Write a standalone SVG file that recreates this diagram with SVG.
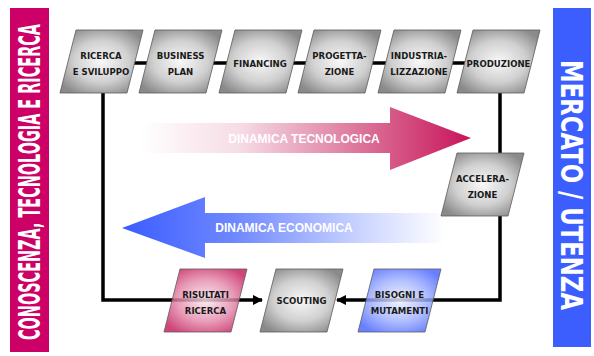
<svg xmlns="http://www.w3.org/2000/svg" width="594" height="356" viewBox="0 0 594 356">
<defs>
<radialGradient id="gGray" cx="50%" cy="50%" r="60%">
<stop offset="0" stop-color="#f8f8f8"/><stop offset="0.55" stop-color="#d0d0d0"/><stop offset="1" stop-color="#8a8a8a"/>
</radialGradient>
<radialGradient id="gPink" cx="50%" cy="50%" r="60%">
<stop offset="0" stop-color="#fbe6ee"/><stop offset="0.55" stop-color="#e48aab"/><stop offset="1" stop-color="#c41d5c"/>
</radialGradient>
<radialGradient id="gBlue" cx="50%" cy="50%" r="60%">
<stop offset="0" stop-color="#eef1ff"/><stop offset="0.55" stop-color="#9fb0ff"/><stop offset="1" stop-color="#4763ff"/>
</radialGradient>
<linearGradient id="gTech" gradientUnits="userSpaceOnUse" x1="140" y1="0" x2="471" y2="0">
<stop offset="0" stop-color="#ffffff"/><stop offset="0.3" stop-color="#f6dce6"/><stop offset="0.7" stop-color="#da6a93"/><stop offset="1" stop-color="#c8145a"/>
</linearGradient>
<linearGradient id="gEco" gradientUnits="userSpaceOnUse" x1="122" y1="0" x2="445" y2="0">
<stop offset="0" stop-color="#3a5cff"/><stop offset="0.35" stop-color="#6f88ff"/><stop offset="0.75" stop-color="#cdd6ff"/><stop offset="1" stop-color="#ffffff"/>
</linearGradient>
<marker id="ah" viewBox="0 0 10 10" refX="9" refY="5" markerWidth="3" markerHeight="3" orient="auto" markerUnits="strokeWidth">
<path d="M0,0 L10,5 L0,10 Z" fill="#000"/>
</marker>
</defs>
<style>
.node{stroke:#5a5a5a;stroke-width:0.8}
.lbl{font-family:"Liberation Sans Narrow","DejaVu Sans Condensed","Liberation Sans",sans-serif;font-weight:bold;font-size:9.5px;fill:#1a1a1a;text-anchor:middle}
.conn{fill:none;stroke:#000;stroke-width:3.5}
.big{font-family:"Liberation Sans Narrow","DejaVu Sans Condensed","Liberation Sans",sans-serif;font-weight:bold;fill:#fff;text-anchor:middle}
.dyn{font-family:"Liberation Sans","DejaVu Sans",sans-serif;font-weight:bold;font-size:12px;fill:#fff;text-anchor:middle}
</style>
<rect width="594" height="356" fill="#fff"/>
<g id="bar-left">
<rect x="10" y="8" width="39" height="344" fill="#cc0066"/>
<text class="big" font-size="22" transform="translate(40,182) rotate(-90) scale(1,1.4)" textLength="316" lengthAdjust="spacingAndGlyphs">CONOSCENZA, TECNOLOGIA E RICERCA</text>
</g>
<g id="bar-right">
<rect x="553" y="8" width="38" height="339" fill="#3d5eff"/>
<text class="big" font-size="30" transform="translate(561,185) rotate(90)" textLength="250" lengthAdjust="spacingAndGlyphs">MERCATO / UTENZA</text>
</g>
<g id="dyn-tech">
<path d="M140,123 L390,123 L390,107 L471,138 L390,170 L390,153 L140,153 Z" fill="url(#gTech)"/>
<text class="dyn" x="304" y="142.5">DINAMICA TECNOLOGICA</text>
</g>
<g id="dyn-eco">
<path d="M122,228 L205,197 L205,213 L445,213 L445,243 L205,243 L205,258 Z" fill="url(#gEco)"/>
<text class="dyn" x="284" y="232">DINAMICA ECONOMICA</text>
</g>
<g id="connectors">
<line class="conn" x1="120" y1="63" x2="480" y2="63"/>
<polyline class="conn" points="103,93 103,300 262,300" marker-end="url(#ah)"/>
<polyline class="conn" points="500,93 500,300 337,300" marker-end="url(#ah)"/>
</g>
<g id="n-ricerca"><polygon class="node" points="76,30 143,30 127,93 60,93" fill="url(#gGray)"/><text class="lbl" x="101" y="59">RICERCA</text><text class="lbl" x="101" y="75">E SVILUPPO</text></g>
<g id="n-business"><polygon class="node" points="155,30 222,30 206,93 139,93" fill="url(#gGray)"/><text class="lbl" x="180.5" y="59">BUSINESS</text><text class="lbl" x="180.5" y="75">PLAN</text></g>
<g id="n-financing"><polygon class="node" points="235,30 302,30 286,93 219,93" fill="url(#gGray)"/><text class="lbl" x="260" y="66.5">FINANCING</text></g>
<g id="n-progettazione"><polygon class="node" points="314,30 381,30 365,93 298,93" fill="url(#gGray)"/><text class="lbl" x="339.5" y="59">PROGETTA-</text><text class="lbl" x="339.5" y="75">ZIONE</text></g>
<g id="n-industrializzazione"><polygon class="node" points="394,30 461,30 445,93 378,93" fill="url(#gGray)"/><text class="lbl" x="419" y="59">INDUSTRIA-</text><text class="lbl" x="419" y="75">LIZZAZIONE</text></g>
<g id="n-produzione"><polygon class="node" points="473,30 540,30 524,93 457,93" fill="url(#gGray)"/><text class="lbl" x="498.5" y="66.5">PRODUZIONE</text></g>
<g id="n-accelerazione"><polygon class="node" points="457,153 524,153 508,216 441,216" fill="url(#gGray)"/><text class="lbl" x="482.5" y="182">ACCELERA-</text><text class="lbl" x="482.5" y="198">ZIONE</text></g>
<g id="n-risultati"><polygon class="node" points="180,269 247,269 231,332 164,332" fill="url(#gPink)" fill-opacity="0.82"/><text class="lbl" x="205.5" y="298">RISULTATI</text><text class="lbl" x="205.5" y="314">RICERCA</text></g>
<g id="n-scouting"><polygon class="node" points="276,269 343,269 327,332 260,332" fill="url(#gGray)"/><text class="lbl" x="301.5" y="304">SCOUTING</text></g>
<g id="n-bisogni"><polygon class="node" points="374,269 441,269 425,332 358,332" fill="url(#gBlue)" fill-opacity="0.82"/><text class="lbl" x="399.5" y="298">BISOGNI E</text><text class="lbl" x="399.5" y="314">MUTAMENTI</text></g>
</svg>
